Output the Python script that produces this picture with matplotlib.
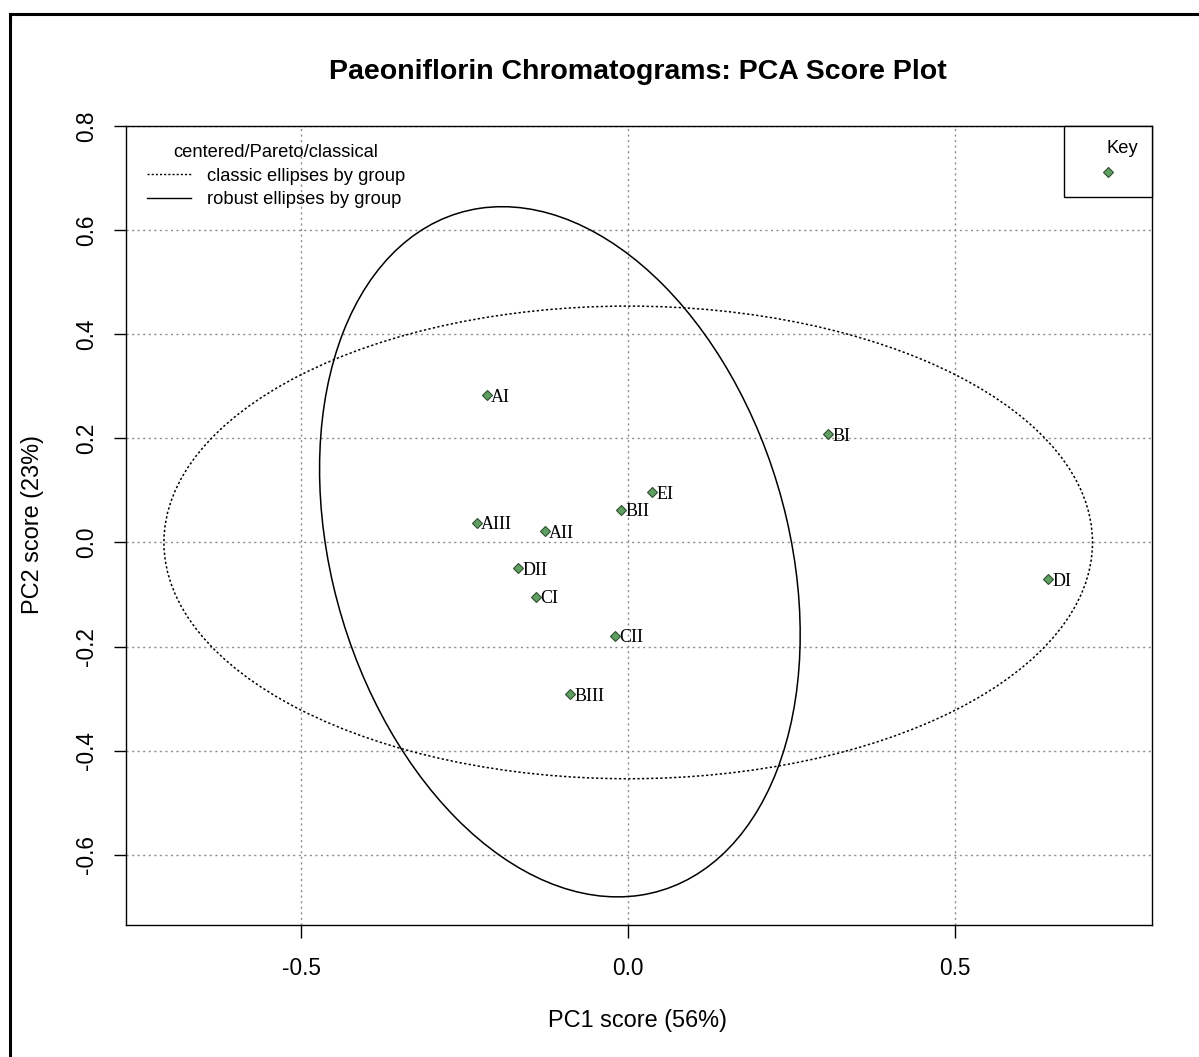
import numpy as np
import matplotlib
matplotlib.use("Agg")
import matplotlib.pyplot as plt
from matplotlib.patches import Ellipse, Rectangle
from matplotlib.lines import Line2D

# Scores PCA (PC1, PC2) ===============================================
amostras = ['AI', 'BI', 'EI', 'BII', 'AIII', 'AII', 'DII', 'CI', 'CII', 'BIII', 'DI']
pc1 = [-0.216, 0.306, 0.037, -0.011, -0.231, -0.128, -0.168, -0.141, -0.020, -0.089, 0.642]
pc2 = [0.283, 0.208, 0.096, 0.063, 0.038, 0.021, -0.050, -0.104, -0.179, -0.292, -0.071]

# Elipses: centro, semi-extensoes em x e y, correlacao ================
elipse_classica = {'centro': (0.0, 0.0), 'hx': 0.710, 'hy': 0.454, 'rho': 0.0}
elipse_robusta  = {'centro': (-0.1045, -0.018), 'hx': 0.3675, 'hy': 0.663, 'rho': -0.24}

xticks = [-0.5, 0.0, 0.5]
yticks = [-0.6, -0.4, -0.2, 0.0, 0.2, 0.4, 0.6, 0.8]

plt.rcParams['font.family'] = ['Liberation Sans', 'DejaVu Sans']

fig = plt.figure(figsize=(11.99, 10.57), dpi=100)
ax = fig.add_axes([126/1199, 1 - 925/1057, (1152 - 126)/1199, (925 - 126)/1057])

ax.set_xlim(-0.768, 0.801)
ax.set_ylim(-0.735, 0.800)

# Grade ===============================================================
for v in xticks:
    ax.axvline(v, color='#8c8c8c', linestyle=(0, (1.5, 2.5)), linewidth=1.0, zorder=0)
for v in yticks:
    ax.axhline(v, color='#8c8c8c', linestyle=(0, (1.5, 2.5)), linewidth=1.0, zorder=0)

# Elipses =============================================================
def desenha_elipse(par, ls):
    hx, hy, rho = par['hx'], par['hy'], par['rho']
    cov = np.array([[hx*hx, rho*hx*hy], [rho*hx*hy, hy*hy]])
    val, vec = np.linalg.eigh(cov)
    ang = np.degrees(np.arctan2(vec[1, 1], vec[0, 1]))
    e = Ellipse(par['centro'], 2*np.sqrt(val[1]), 2*np.sqrt(val[0]), angle=ang,
                fill=False, edgecolor='black', linestyle=ls, linewidth=1.1)
    ax.add_patch(e)

desenha_elipse(elipse_classica, (0, (1.5, 1.5)))
desenha_elipse(elipse_robusta, '-')

# Pontos e rotulos ====================================================
ax.plot(pc1, pc2, linestyle='none', marker='D', markersize=4.6,
        markerfacecolor='#5f9f62', markeredgecolor='#2f4f30', markeredgewidth=0.8)
for nome, x, y in zip(amostras, pc1, pc2):
    ax.annotate(nome, (x, y), xytext=(3, -1.5), textcoords='offset points',
                ha='left', va='center', fontsize=13, family='Liberation Serif')

# Eixos ===============================================================
ax.set_xticks(xticks)
ax.set_xticklabels(['-0.5', '0.0', '0.5'])
ax.set_yticks(yticks)
ax.set_yticklabels([f'{v:.1f}' for v in yticks], rotation=90, va='center')
ax.tick_params(axis='both', length=9, width=1, labelsize=16.3, color='black')
ax.tick_params(axis='x', pad=14)
ax.tick_params(axis='y', pad=11)
for s in ax.spines.values():
    s.set_linewidth(1.0)

# Legendas ============================================================
h1 = [Line2D([], [], color='black', linestyle=(0, (1.5, 1.5)), linewidth=1.0),
      Line2D([], [], color='black', linestyle='-', linewidth=1.0)]
leg1 = ax.legend(h1, ['classic ellipses by group', 'robust ellipses by group'],
                 title='centered/Pareto/classical', loc='upper left',
                 bbox_to_anchor=(0.004, 0.998), frameon=False, fontsize=13.2,
                 title_fontsize=13.2, handlelength=2.4, handletextpad=0.9,
                 labelspacing=0.36, borderpad=0.4)
ax.add_artist(leg1)

h2 = [Line2D([], [], linestyle='none', marker='D', markersize=4.6,
             markerfacecolor='#5f9f62', markeredgecolor='#2f4f30', markeredgewidth=0.8)]
leg2 = ax.legend(h2, [''], title='Key', loc='upper right', bbox_to_anchor=(1.0, 1.0),
                 fontsize=13.2, title_fontsize=13.2, handlelength=3.3,
                 handletextpad=0.0, borderpad=0.75, borderaxespad=0.0,
                 fancybox=False, edgecolor='black', framealpha=1.0,
                 alignment='right')
leg2.get_frame().set_linewidth(1.0)

# Titulos =============================================================
fig.text(638/1199, 1 - 72/1057, 'Paeoniflorin Chromatograms: PCA Score Plot',
         ha='center', va='center', fontsize=20.5, fontweight='bold')
fig.text(638/1199, 1 - 1021/1057, 'PC1 score (56%)', ha='center', va='center', fontsize=16.9)
fig.text(33/1199, 1 - 525/1057, 'PC2 score (23%)', ha='center', va='center',
         rotation=90, fontsize=16.9)

# Moldura externa =====================================================
fig.patches.append(Rectangle((10/1199, -0.1), 1.2, 1.1 - 14/1057, transform=fig.transFigure,
                             fill=False, edgecolor='black', linewidth=2.2))

plt.savefig('out.png', dpi=100)
